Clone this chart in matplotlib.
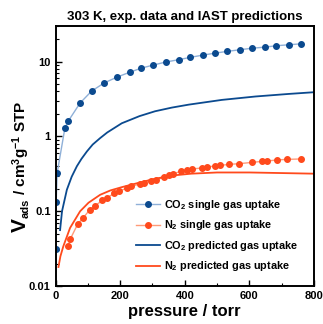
import matplotlib.pyplot as plt
from matplotlib.ticker import MultipleLocator, FixedLocator, NullFormatter

plt.rcParams["font.family"] = ["Liberation Sans", "DejaVu Sans"]
plt.rcParams["font.weight"] = "bold"
plt.rcParams["mathtext.default"] = "bf"
plt.rcParams["mathtext.fontset"] = "custom"
plt.rcParams["mathtext.bf"] = "Liberation Sans:bold"
plt.rcParams["mathtext.rm"] = "Liberation Sans:bold"

# CO2 single gas uptake (exp.)
p_co2 = [1, 2, 5, 29, 40, 76, 112, 151, 190, 229, 266, 303, 342, 381, 417,
         455, 495, 531, 570, 608, 647, 684, 722, 761]
v_co2 = [0.031, 0.135, 0.325, 1.3, 1.62, 2.8, 4.05, 5.2, 6.2, 7.2, 8.2, 9.0, 9.9,
         10.6, 11.4, 12.2, 13.0, 13.7, 14.4, 15.1, 15.6, 16.3, 16.8, 17.3]

# N2 single gas uptake (exp.)
p_n2 = [39, 45, 69, 85, 106, 121, 145, 159, 182, 197, 221, 234, 260, 273, 297,
        312, 336, 350, 365, 387, 407, 422, 453, 469, 495, 510, 536, 567, 608,
        639, 655, 686, 717, 761]
v_n2 = [0.034, 0.042, 0.068, 0.081, 0.105, 0.117, 0.14, 0.152, 0.173, 0.186,
        0.204, 0.215, 0.231, 0.239, 0.254, 0.262, 0.287, 0.305, 0.318, 0.341,
        0.359, 0.367, 0.379, 0.391, 0.403, 0.41, 0.423, 0.432, 0.45, 0.464,
        0.47, 0.485, 0.494, 0.5]

# IAST predictions
p_co2_pred = [14, 20, 35, 50, 66, 80, 97, 115, 138, 160, 205, 260, 308, 360,
              412, 515, 619, 722, 800]
v_co2_pred = [0.056, 0.1, 0.194, 0.29, 0.4, 0.5, 0.63, 0.78, 0.95, 1.13, 1.5,
              1.87, 2.17, 2.43, 2.66, 3.08, 3.42, 3.7, 3.9]
p_n2_pred = [9, 15, 24, 45, 76, 102, 138, 170, 205, 257, 308, 360, 420, 500,
             600, 700, 800]
v_n2_pred = [0.018, 0.025, 0.034, 0.06, 0.1, 0.13, 0.166, 0.19, 0.21, 0.24,
             0.272, 0.3, 0.318, 0.33, 0.33, 0.324, 0.318]

blue = "#0b4a8f"
blue_light = "#8fb0d8"
red = "#ff4a1c"
red_light = "#ff9a78"

fig = plt.figure(figsize=(3.23, 3.24), dpi=100)
ax = fig.add_axes([0.172, 0.117, 0.8, 0.803])

ax.plot(p_co2, v_co2, "-o", color=blue_light, lw=1, mfc=blue, mec=blue, ms=4,
        label="CO$_2$ single gas uptake")
ax.plot(p_n2, v_n2, "-o", color=red_light, lw=1, mfc=red, mec=red, ms=4,
        label="N$_2$ single gas uptake")
ax.plot(p_co2_pred, v_co2_pred, "-", color=blue, lw=1.3,
        label="CO$_2$ predicted gas uptake")
ax.plot(p_n2_pred, v_n2_pred, "-", color=red, lw=1.3,
        label="N$_2$ predicted gas uptake")

ax.set_yscale("log")
ax.set_xlim(0, 800)
ax.set_ylim(0.01, 30)
ax.xaxis.set_major_locator(MultipleLocator(200))
ax.xaxis.set_minor_locator(MultipleLocator(100))
ax.yaxis.set_major_locator(FixedLocator([0.01, 0.1, 1, 10]))
ax.set_yticklabels(["0.01", "0.1", "1", "10"])
ax.yaxis.set_minor_formatter(NullFormatter())
ax.tick_params(which="both", direction="in", labelsize=8)
ax.tick_params(which="major", length=4, width=1)
ax.tick_params(which="minor", length=2.5, width=0.8)
for s in ax.spines.values():
    s.set_linewidth(1.4)

ax.set_title("303 K, exp. data and IAST predictions", fontsize=9.5,
             fontweight="bold", pad=4)
ax.set_xlabel("pressure / torr", fontsize=12, fontweight="bold", labelpad=2)

# y label built from pieces so the V can be larger
fig.canvas.draw()
W, H = fig.bbox.width, fig.bbox.height
kw = dict(rotation=90, rotation_mode="anchor", ha="left", va="baseline",
          fontweight="bold")
tv = fig.text(26 / W, 1 - 232 / H, "V", fontsize=15, **kw)
r = fig.canvas.get_renderer()
y1 = 232 - tv.get_window_extent(r).height
ta = fig.text(29 / W, 1 - y1 / H, "ads", fontsize=8, **kw)
y2 = y1 - ta.get_window_extent(r).height
fig.text(26 / W, 1 - y2 / H, " / cm$^3$g$^{-1}$ STP", fontsize=11, **kw)

ax.legend(loc="lower right", frameon=False, fontsize=7.8, handlelength=2.2,
          bbox_to_anchor=(0.956, 0.032), borderaxespad=0, borderpad=0.4,
          labelspacing=0.6, handletextpad=0.4)

fig.savefig("out.png", dpi=100)
